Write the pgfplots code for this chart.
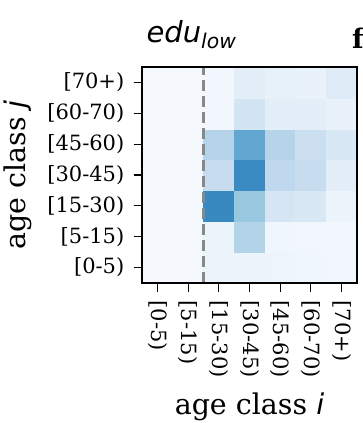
\documentclass[border=0pt]{standalone}
\usepackage{pgfplots}
\pgfplotsset{compat=1.18}
\usepackage{fontspec}
\setmainfont{DejaVu Serif}
\newfontfamily\dvsans{DejaVu Sans}
\pgfplotstableread{
x y c
0 0 0.012
1 0 0.012
2 0 0.06
3 0 0.06
4 0 0.05
5 0 0.04
6 0 0.03
0 1 0.012
1 1 0.012
2 1 0.06
3 1 0.31
4 1 0.04
5 1 0.03
6 1 0.03
0 2 0.012
1 2 0.012
2 2 0.66
3 2 0.39
4 2 0.17
5 2 0.15
6 2 0.06
0 3 0.012
1 3 0.012
2 3 0.24
3 3 0.65
4 3 0.27
5 3 0.24
6 3 0.10
0 4 0.012
1 4 0.012
2 4 0.30
3 4 0.53
4 4 0.30
5 4 0.22
6 4 0.15
0 5 0.012
1 5 0.012
2 5 0.03
3 5 0.18
4 5 0.10
5 5 0.10
6 5 0.07
0 6 0.012
1 6 0.012
2 6 0.03
3 6 0.10
4 6 0.08
5 6 0.07
6 6 0.12
}\heat
\begin{document}
\begin{tikzpicture}[x=1bp,y=1bp]
\useasboundingbox (0,0) rectangle (363,423);
\begin{axis}[
  at={(142bp,140bp)}, anchor=south west,
  scale only axis, width=215bp, height=216bp,
  xmin=-0.5, xmax=6.5, ymin=-0.5, ymax=6.5,
  enlargelimits=false,
  colormap={blues}{rgb255=(247,251,255) rgb255=(222,235,247) rgb255=(198,219,239) rgb255=(158,202,225) rgb255=(107,174,214) rgb255=(66,146,198) rgb255=(33,113,181) rgb255=(8,81,156) rgb255=(8,48,107)},
  point meta min=0, point meta max=1,
  xtick={0,...,6}, ytick={0,...,6},
  xtick pos=bottom, ytick pos=left,
  xticklabels={{[0-5)},{[5-15)},{[15-30)},{[30-45)},{[45-60)},{[60-70)},{[70+)}},
  yticklabels={{[0-5)},{[5-15)},{[15-30)},{[30-45)},{[45-60)},{[60-70)},{[70+)}},
  tick align=outside, major tick length=8.5bp,
  tick style={black, line width=1.1bp},
  axis line style={black, line width=1.3bp},
  ticklabel style={font=\fontsize{21bp}{25bp}\selectfont},
  xticklabel style={rotate=-90, anchor=west, inner xsep=9bp, inner ysep=0pt},
  yticklabel style={anchor=east, inner xsep=9bp, inner ysep=0pt},
  xlabel={age class {\dvsans\itshape i}},
  ylabel={age class {\dvsans\itshape j}},
  label style={font=\fontsize{28.5bp}{32bp}\selectfont},
  xlabel style={at={(axis description cs:0.5,-0.611)}, anchor=base},
  ylabel style={at={(axis description cs:-0.577,0.5)}, anchor=center},
  title={\dvsans\itshape edu\textsubscript{low}},
  title style={at={(axis description cs:0.005,1.088)}, anchor=base west, font=\fontsize{29bp}{32bp}\selectfont},
  axis on top,
]
\addplot[matrix plot*, mesh/cols=7, point meta=explicit] table[x=x, y=y, meta=c] {\heat};
\addplot[color={rgb,255:red,136;green,136;blue,136}, line width=3.6bp, dash pattern=on 11bp off 5bp] coordinates {(1.5,-0.5) (1.5,6.5)};
\end{axis}
\node[anchor=base west, inner sep=0pt, font=\fontsize{27bp}{30bp}\selectfont\bfseries] at (352,375) {f};
\end{tikzpicture}
\end{document}
